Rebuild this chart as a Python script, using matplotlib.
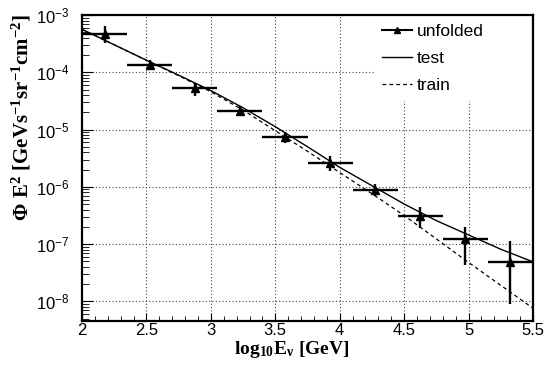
import numpy as np
import matplotlib.pyplot as plt
from matplotlib.lines import Line2D
from matplotlib.ticker import LogLocator, FuncFormatter, MultipleLocator, NullFormatter

plt.rcParams['font.family'] = 'Liberation Sans'
plt.rcParams['mathtext.fontset'] = 'custom'
plt.rcParams['mathtext.rm'] = 'Liberation Serif:bold'
plt.rcParams['mathtext.bf'] = 'Liberation Serif:bold'
plt.rcParams['mathtext.it'] = 'Liberation Serif:bold'

# unfolded spectrum: bin centres in log10(E/GeV), half bin width
log_e = [2.175, 2.525, 2.875, 3.225, 3.575, 3.925, 4.275, 4.625, 4.975, 5.325]
half_bin = 0.175
flux = [4.6e-4, 1.34e-4, 5.25e-5, 2.12e-5, 7.55e-6, 2.59e-6, 8.87e-7, 3.12e-7, 1.22e-7, 4.85e-8]
flux_low = [3.31e-4, 1.10e-4, 3.89e-5, 1.70e-5, 5.89e-6, 1.91e-6, 6.92e-7, 1.91e-7, 4.37e-8, 9.1e-9]
flux_high = [6.31e-4, 1.64e-4, 6.61e-5, 2.57e-5, 8.91e-6, 3.39e-6, 1.12e-6, 4.47e-7, 1.95e-7, 1.12e-7]

# true spectra of test and training samples (log10 of flux)
curve_e = [2.0, 2.25, 2.5, 2.75, 3.0, 3.25, 3.5, 3.75, 4.0, 4.25, 4.5, 4.75, 5.0, 5.25, 5.5]
test_logflux = [-3.25, -3.52, -3.79, -4.05, -4.32, -4.62, -4.95, -5.30, -5.66, -5.98,
                -6.30, -6.59, -6.84, -7.09, -7.31]
train_logflux = [-3.25, -3.52, -3.79, -4.06, -4.34, -4.66, -5.02, -5.38, -5.75, -6.12,
                 -6.50, -6.91, -7.32, -7.72, -8.12]

fig = plt.figure(figsize=(5.52, 3.67), dpi=100)
ax = fig.add_axes([82 / 552, 1 - 320.7 / 367, 451 / 552, 305.7 / 367])

flux = np.array(flux)
yerr = [flux - np.array(flux_low), np.array(flux_high) - flux]
ax.errorbar(log_e, flux, xerr=half_bin, yerr=yerr, fmt='^', color='k', ms=5.5,
            elinewidth=1.7, capsize=0, zorder=3)
ax.plot(curve_e, 10 ** np.array(test_logflux), color='k', lw=1.0, zorder=2)
ax.plot(curve_e, 10 ** np.array(train_logflux), color='k', lw=0.9,
        linestyle=(0, (3, 2.5)), zorder=2)

ax.set_yscale('log')
ax.set_xlim(2, 5.5)
ax.set_ylim(4.6e-9, 1e-3)

ax.xaxis.set_major_locator(MultipleLocator(0.5))
ax.xaxis.set_minor_locator(MultipleLocator(0.1))
ax.xaxis.set_major_formatter(FuncFormatter(lambda v, p: '%g' % v))
ax.yaxis.set_major_locator(LogLocator(base=10, numticks=20))
ax.yaxis.set_minor_locator(LogLocator(base=10, subs=np.arange(2, 10), numticks=20))
ax.yaxis.set_minor_formatter(NullFormatter())

ax.tick_params(which='both', direction='in', top=False, right=False, labelsize=12)
ax.tick_params(axis='x', which='major', length=6, pad=1.5)
ax.tick_params(axis='x', which='minor', length=3.5)
ax.tick_params(axis='y', which='major', length=8, pad=9)
ax.tick_params(axis='y', which='minor', length=5)

# frame stays on top of the legend box
for s in ax.spines.values():
    s.set_linewidth(1.6)
    s.set_zorder(6)

ax.grid(True, which='major', color='#444444', linestyle=(0, (1, 2)), linewidth=0.8)
ax.set_axisbelow(True)

handles = [Line2D([], [], color='k', marker='^', ms=5, lw=1.5),
           Line2D([], [], color='k', lw=1.0),
           Line2D([], [], color='k', lw=0.9, linestyle=(0, (3, 2.5)))]
leg = ax.legend(handles, ['unfolded', 'test', 'train'], loc='upper left',
                bbox_to_anchor=(0.647, 0.0, 0.353, 1.0), mode='expand',
                borderaxespad=0, fontsize=12.5, frameon=True, fancybox=False,
                borderpad=0.5, labelspacing=0.68, handlelength=1.7,
                handletextpad=0.3)
leg.get_frame().set_edgecolor('none')
leg.get_frame().set_facecolor('white')
leg.get_frame().set_alpha(1)

fig.text(291.5 / 552, 1 - 354 / 367, r'$\mathbf{log_{10}E_{\nu}\ [GeV]}$',
         ha='center', va='baseline', fontsize=14)
fig.text(21 / 552, 1 - 14 / 367, r'$\mathbf{\Phi\ E^{2}\ [GeVs^{-1}sr^{-1}cm^{-2}]}$',
         ha='center', va='top', rotation=90, fontsize=15)

fig.savefig('out.png', dpi=100)
